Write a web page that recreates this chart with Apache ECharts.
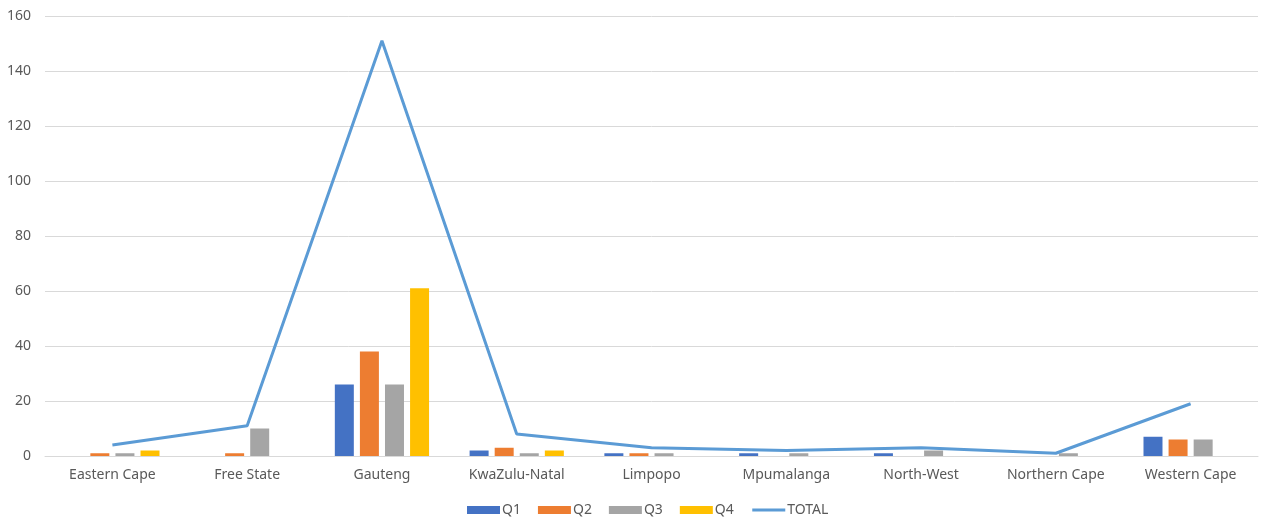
<!DOCTYPE html>
<html>
<head>
<meta charset="utf-8">
<style>
  html, body { margin: 0; padding: 0; background: #fff; }
  #chart { width: 1267px; height: 518px; }
</style>
<script src="https://cdn.jsdelivr.net/npm/echarts@6/dist/echarts.min.js"></script>
</head>
<body>
<div id="chart"></div>
<script>
// Provinces along the category axis
const provinces = ['Eastern Cape', 'Free State', 'Gauteng', 'KwaZulu-Natal', 'Limpopo',
                   'Mpumalanga', 'North-West', 'Northern Cape', 'Western Cape'];

// Quarterly counts per province ('-' = no entry)
const q1 = ['-', '-', 26, 2, 1, 1, 1, '-', 7];
const q2 = [1, 1, 38, 3, 1, '-', '-', '-', 6];
const q3 = [1, 10, 26, 1, 1, 1, 2, 1, 6];
const q4 = [2, '-', 61, 2, '-', '-', '-', '-', '-'];

// Yearly total per province
const total = [4, 11, 151, 8, 3, 2, 3, 1, 19];

const yTicks = { min: 0, max: 160, interval: 20 };

const font = '"Noto Sans", "Open Sans", sans-serif';
const textColor = '#595959';

const chart = echarts.init(document.getElementById('chart'), null, { renderer: 'canvas' });

function barSeries(name, data, color) {
  return {
    name, type: 'bar', data,
    barWidth: 19, barGap: '32%',
    itemStyle: { color },
    emphasis: { disabled: true }
  };
}

chart.setOption({
  animation: false,
  textStyle: { fontFamily: font },
  grid: { left: 45, right: 9, top: 16, bottom: 62, containLabel: false },
  legend: {
    bottom: -4, left: 462,
    itemWidth: 33, itemHeight: 8, itemGap: 17,
    textStyle: { color: textColor, fontSize: 14, fontFamily: font, padding: [0, 0, 0, -3] },
    data: [
      { name: 'Q1', icon: 'rect' },
      { name: 'Q2', icon: 'rect' },
      { name: 'Q3', icon: 'rect' },
      { name: 'Q4', icon: 'rect' },
      { name: 'TOTAL', itemStyle: { opacity: 0 }, lineStyle: { width: 3 } }
    ]
  },
  xAxis: {
    type: 'category',
    data: provinces,
    axisLine: { lineStyle: { color: '#d9d9d9', width: 1 } },
    axisTick: { show: false },
    axisLabel: { color: textColor, fontSize: 14, fontFamily: font, margin: 12, interval: 0 }
  },
  yAxis: {
    type: 'value',
    min: yTicks.min, max: yTicks.max, interval: yTicks.interval,
    axisLine: { show: false },
    axisTick: { show: false },
    axisLabel: { color: textColor, fontSize: 14, fontFamily: font, margin: 14 },
    splitLine: { lineStyle: { color: '#d9d9d9', width: 1 } }
  },
  series: [
    barSeries('Q1', q1, '#4472C4'),
    barSeries('Q2', q2, '#ED7D31'),
    barSeries('Q3', q3, '#A5A5A5'),
    barSeries('Q4', q4, '#FFC000'),
    {
      name: 'TOTAL', type: 'line', data: total,
      symbol: 'none', showSymbol: false,
      lineStyle: { color: '#5B9BD5', width: 3 },
      itemStyle: { color: '#5B9BD5' },
      emphasis: { disabled: true }
    }
  ]
});
</script>
</body>
</html>
